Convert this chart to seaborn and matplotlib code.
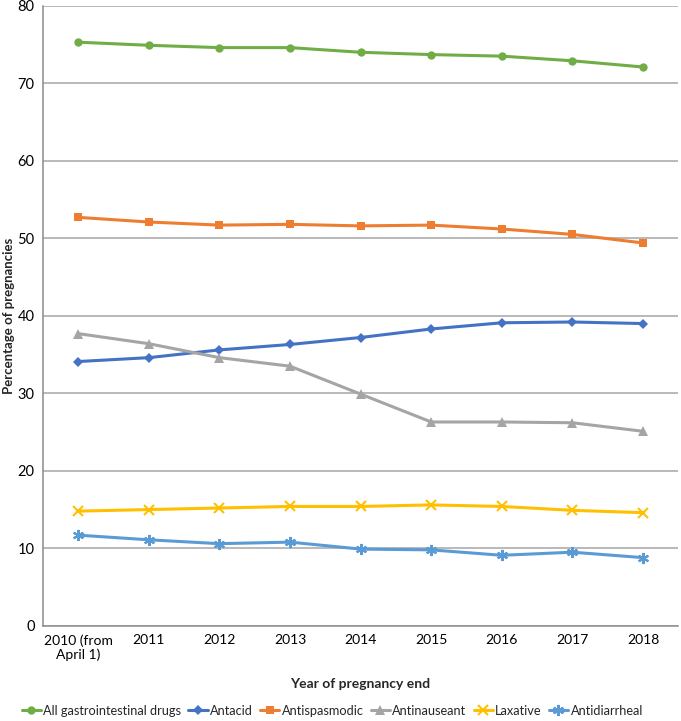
import pandas as pd
import numpy as np
import seaborn as sns
import matplotlib.pyplot as plt
from matplotlib.ticker import FixedLocator

# Data
years = ["2010 (from\nApril 1)", "2011", "2012", "2013", "2014", "2015", "2016", "2017", "2018"]

all_gi = [75.3, 74.9, 74.6, 74.6, 74.0, 73.7, 73.5, 72.9, 72.1]
antacid = [34.1, 34.6, 35.6, 36.3, 37.2, 38.3, 39.1, 39.2, 39.0]
antispasmodic = [52.7, 52.1, 51.7, 51.8, 51.6, 51.7, 51.2, 50.5, 49.4]
antinauseant = [37.7, 36.4, 34.6, 33.5, 29.9, 26.3, 26.3, 26.2, 25.1]
laxative = [14.8, 15.0, 15.2, 15.4, 15.4, 15.6, 15.4, 14.9, 14.6]
antidiarrheal = [11.7, 11.1, 10.6, 10.8, 9.9, 9.8, 9.1, 9.5, 8.8]

series = {
    "All gastrointestinal drugs": all_gi,
    "Antacid": antacid,
    "Antispasmodic": antispasmodic,
    "Antinauseant": antinauseant,
    "Laxative": laxative,
    "Antidiarrheal": antidiarrheal,
}

palette = {
    "All gastrointestinal drugs": "#70AD47",
    "Antacid": "#4472C4",
    "Antispasmodic": "#ED7D31",
    "Antinauseant": "#A5A5A5",
    "Laxative": "#FFC000",
    "Antidiarrheal": "#5B9BD5",
}
markers = {
    "All gastrointestinal drugs": ("o", 6),
    "Antacid": ("D", 5),
    "Antispasmodic": ("s", 6),
    "Antinauseant": ("^", 7),
    "Laxative": ("x", 7),
    "Antidiarrheal": ((6, 2, 0), 8),
}

df = pd.DataFrame(
    [(name, yr, v) for name, vals in series.items() for yr, v in zip(years, vals)],
    columns=["drug", "year", "pct"],
)

sns.set_theme(style="white")
plt.rcParams["font.family"] = ["Lato", "DejaVu Sans"]

fig = plt.figure(figsize=(6.81, 7.21), dpi=100)
ax = fig.add_axes([0.063, 0.132, 0.933, 0.860])

for name in series:
    m, ms = markers[name]
    sns.lineplot(
        data=df[df["drug"] == name],
        x="year",
        y="pct",
        color=palette[name],
        marker=m,
        markersize=ms,
        markeredgewidth=1.5 if m in ("x", (6, 2, 0)) else 0,
        markeredgecolor=palette[name],
        linewidth=2.2,
        label=name,
        ax=ax,
    )

ax.set_xlim(-0.5, len(years) - 0.5)
ax.set_ylim(0, 80)
ax.set_yticks(np.arange(0, 81, 10))
ax.yaxis.grid(True, color="#A6A6A6", linewidth=1.1)
ax.set_axisbelow(True)

# Excel style tick marks between categories
ax.xaxis.set_minor_locator(FixedLocator(np.arange(-0.5, len(years), 1.0)))
ax.tick_params(axis="x", which="major", length=0, pad=6, labelsize=10)
ax.tick_params(axis="x", which="minor", length=5, width=1, direction="out")
ax.tick_params(axis="y", which="major", length=4, width=1, direction="out", labelsize=10.5, pad=2)
ax.tick_params(axis="both", which="both", color="#8C8C8C", labelcolor="black")

for side in ["top", "right"]:
    ax.spines[side].set_visible(False)
for side in ["left", "bottom"]:
    ax.spines[side].set_color("#8C8C8C")
    ax.spines[side].set_linewidth(1.1)

ax.set_xlabel("Year of pregnancy end", fontweight="bold", fontsize=10, labelpad=12)
ax.set_ylabel("Percentage of pregnancies", fontweight="bold", fontsize=9.5, labelpad=2)

ax.legend().remove()
handles, labels = ax.get_legend_handles_labels()
fig.legend(
    handles,
    labels,
    loc="center",
    bbox_to_anchor=(0.488, 0.014),
    ncol=6,
    frameon=False,
    fontsize=9.2,
    handlelength=1.5,
    handletextpad=0.2,
    columnspacing=0.55,
)

plt.savefig("out.png", dpi=100)
